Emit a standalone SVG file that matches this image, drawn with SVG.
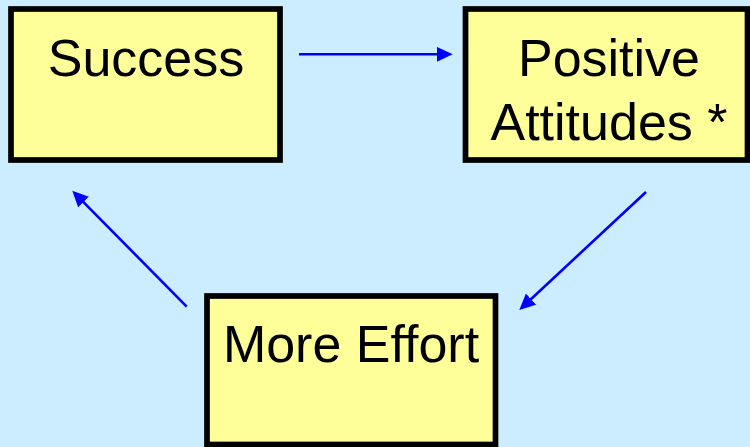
<svg xmlns="http://www.w3.org/2000/svg" width="750" height="447" viewBox="0 0 750 447">
<defs>
<style>
.box{fill:#FFFF99;stroke:#000000;stroke-width:5.7}
.lbl{font-family:"Liberation Sans",Arial,sans-serif;font-size:52px;fill:#000000;text-anchor:middle}
.conn{stroke:#0000FF;stroke-width:2.6;fill:none}
</style>
<marker id="ah" viewBox="0 0 16 15" markerWidth="16" markerHeight="15" refX="6" refY="7.5" orient="auto" markerUnits="userSpaceOnUse">
<path d="M0,0 L16,7.5 L0,15 Z" fill="#0000FF"/>
</marker>
</defs>
<rect x="0" y="0" width="750" height="447" fill="#CCECFF"/>
<g id="success">
<rect class="box" x="11" y="9" width="269" height="151"/>
<text class="lbl" x="146" y="76">Success</text>
</g>
<g id="positive-attitudes">
<rect class="box" x="465.5" y="9" width="282" height="151"/>
<text class="lbl" x="609" y="76">Positive</text>
<text class="lbl" x="609" y="140">Attitudes *</text>
</g>
<g id="more-effort">
<rect class="box" x="207" y="296" width="288.5" height="148.5"/>
<text class="lbl" x="351" y="362">More Effort</text>
</g>
<g id="connectors">
<line class="conn" x1="299" y1="54.3" x2="442.7" y2="54.3" marker-end="url(#ah)"/>
<line class="conn" x1="646" y1="192" x2="526.6" y2="303.2" marker-end="url(#ah)"/>
<line class="conn" x1="186.7" y1="306.7" x2="79.3" y2="197.8" marker-end="url(#ah)"/>
</g>
</svg>
